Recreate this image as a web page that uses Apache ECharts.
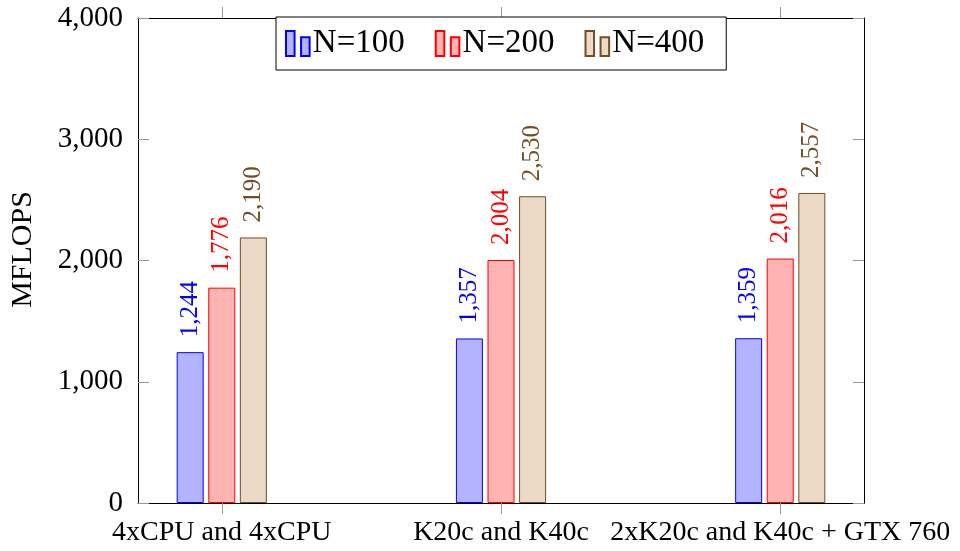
<!DOCTYPE html>
<html>
<head>
<meta charset="utf-8">
<script src="https://cdn.jsdelivr.net/npm/echarts@6/dist/echarts.min.js"></script>
<style>
html,body{margin:0;padding:0;background:#fff;}
#chart{width:960px;height:551px;}
</style>
</head>
<body>
<div id="chart"></div>
<script>
const categories = ['4xCPU and 4xCPU', 'K20c and K40c', '2xK20c and K40c + GTX 760'];
const seriesNames = ['N=100', 'N=200', 'N=400'];
const n100 = [1244, 1357, 1359];
const n200 = [1776, 2004, 2016];
const n400 = [2190, 2530, 2557];
const yTicks = [0, 1000, 2000, 3000, 4000];

const FONT = 'Liberation Serif';
const strokes = ['#0000ff', '#ff0000', '#734d26'];
const fills = ['#b3b3ff', '#ffb3b3', '#ecd9c6'];
const allData = [n100, n200, n400];

function fmt(v) { return Number(v).toLocaleString('en-US'); }

const chart = echarts.init(document.getElementById('chart'), null, {renderer: 'canvas'});

const legendIcon = 'path://M0,0 H8.7 V25.4 H0 Z M15.3,6.4 H24 V25.4 H15.3 Z';

const series = allData.map((arr, i) => ({
  name: seriesNames[i],
  type: 'bar',
  data: arr.map((v, k) => [k, v]),
  barWidth: 27,
  barGap: '17%',
  itemStyle: {color: fills[i], borderColor: strokes[i], borderWidth: 1},
  label: {
    show: true,
    position: 'top',
    distance: 15,
    rotate: 90,
    align: 'left',
    verticalAlign: 'middle',
    color: strokes[i],
    fontFamily: FONT,
    fontSize: 25,
    formatter: p => fmt(p.value[1])
  },
  emphasis: {disabled: true}
}));

chart.setOption({
  animation: false,
  backgroundColor: '#fff',
  grid: {left: 137, right: 96, top: 18, bottom: 48, containLabel: false},
  legend: {
    data: seriesNames,
    left: 276,
    top: 17,
    icon: legendIcon,
    itemWidth: 24,
    itemHeight: 25,
    itemGap: 30,
    padding: [10, 22, 10, 9],
    borderColor: '#000',
    borderWidth: 1,
    backgroundColor: '#fff',
    textStyle: {fontFamily: FONT, fontSize: 33, color: '#000', padding: [0, 0, 0, -2]}
  },
  xAxis: [{
    type: 'value',
    min: -0.3,
    max: 2.3,
    position: 'bottom',
    splitLine: {show: false},
    axisLine: {show: true, onZero: false, lineStyle: {color: '#000', width: 1}},
    axisTick: {show: true, inside: false, length: 11, customValues: [0, 1, 2], lineStyle: {color: '#999'}},
    axisLabel: {
      customValues: [0, 1, 2],
      formatter: v => categories[Math.round(v)] || '',
      fontFamily: FONT, fontSize: 28, color: '#000', margin: 16
    }
  }, {
    type: 'value',
    min: -0.3,
    max: 2.3,
    position: 'top',
    splitLine: {show: false},
    axisLine: {show: true, onZero: false, lineStyle: {color: '#000', width: 1}},
    axisTick: {show: true, inside: false, length: 11, customValues: [0, 1, 2], lineStyle: {color: '#999'}},
    axisLabel: {show: false}
  }],
  yAxis: [{
    type: 'value',
    min: 0,
    max: 4000,
    interval: 1000,
    position: 'left',
    name: 'MFLOPS',
    nameLocation: 'middle',
    nameGap: 100,
    nameRotate: 90,
    nameTextStyle: {fontFamily: FONT, fontSize: 30, color: '#000', padding: [0, 0, 0, 22]},
    splitLine: {show: false},
    axisLine: {show: true, onZero: false, lineStyle: {color: '#000', width: 1}},
    axisTick: {show: true, inside: true, length: 11, lineStyle: {color: '#999'}},
    axisLabel: {
      formatter: v => fmt(v),
      fontFamily: FONT, fontSize: 29, color: '#000', margin: 15
    }
  }, {
    type: 'value',
    min: 0,
    max: 4000,
    interval: 1000,
    position: 'right',
    splitLine: {show: false},
    axisLine: {show: true, onZero: false, lineStyle: {color: '#000', width: 1}},
    axisTick: {show: true, inside: true, length: 11, lineStyle: {color: '#999'}},
    axisLabel: {show: false}
  }],
  series: series
});
</script>
</body>
</html>
